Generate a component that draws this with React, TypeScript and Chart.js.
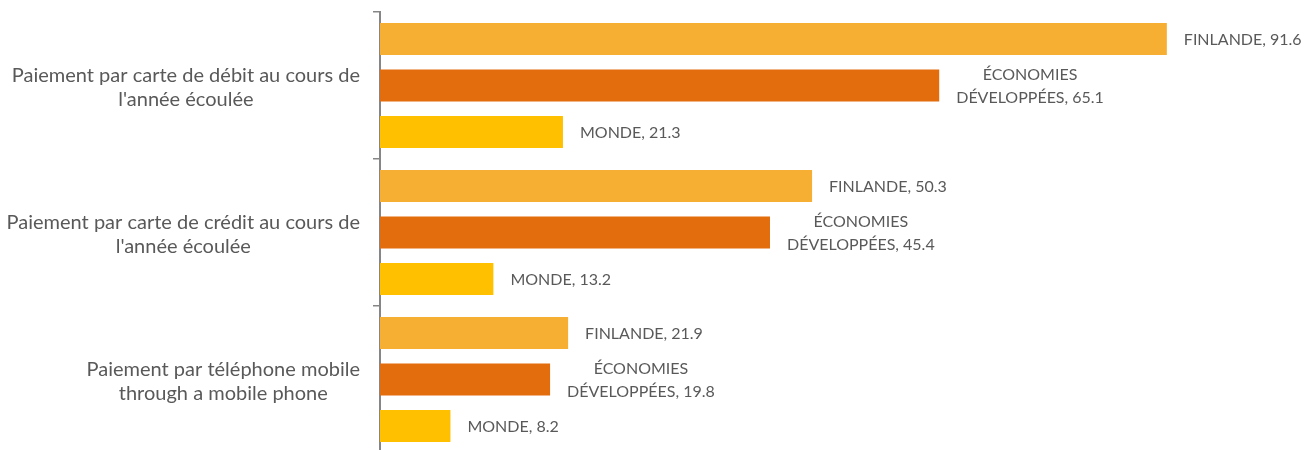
import React, { useEffect, useRef } from "react";
import { Chart, registerables } from "chart.js";

Chart.register(...registerables);

const categories: string[][] = [
  ["Paiement par carte de débit au cours de", "l'année écoulée"],
  ["Paiement par carte de crédit au cours de", "l'année écoulée"],
  ["Paiement par téléphone mobile", "through a mobile phone"],
];
const seriesNames = ["FINLANDE", "ÉCONOMIES DÉVELOPPÉES", "MONDE"];
const finlande = [91.6, 50.3, 21.9];
const economies = [65.1, 45.4, 19.8];
const monde = [21.3, 13.2, 8.2];
const seriesColors = ["#F7AF33", "#E36C0C", "#FFC000"];
const xMax = 100;

const TEXT = "#595959";
const FONT = "Lato, 'Open Sans', sans-serif";

const labelPlugin = {
  id: "customLabels",
  afterDraw(chart: any) {
    const ctx = chart.ctx;
    const yScale = chart.scales.y;
    const area = chart.chartArea;
    ctx.save();
    ctx.fillStyle = TEXT;
    ctx.textAlign = "center";
    ctx.textBaseline = "middle";
    // category labels
    ctx.font = `20px ${FONT}`;
    categories.forEach((lines, i) => {
      const y = yScale.getPixelForValue(i);
      const w = Math.max(...lines.map((l) => ctx.measureText(l).width));
      const cx = area.left - 20 - w / 2;
      const lh = 24;
      const y0 = y - ((lines.length - 1) * lh) / 2 + 2;
      lines.forEach((l, k) => ctx.fillText(l, cx, y0 + k * lh));
    });
    // data labels
    ctx.font = `16px ${FONT}`;
    chart.data.datasets.forEach((ds: any, di: number) => {
      const meta = chart.getDatasetMeta(di);
      meta.data.forEach((el: any, i: number) => {
        const v = ds.data[i];
        const parts = seriesNames[di].split(" ");
        const lines = parts.slice(0, -1).concat([`${parts[parts.length - 1]}, ${v.toFixed(1)}`]);
        const w = Math.max(...lines.map((l: string) => ctx.measureText(l).width));
        const cx = el.x + 17 + w / 2;
        const lh = 23;
        const y0 = el.y - ((lines.length - 1) * lh) / 2 + 1;
        lines.forEach((l: string, k: number) => ctx.fillText(l, cx, y0 + k * lh));
      });
    });
    ctx.restore();
  },
};

export default function App() {
  const ref = useRef<HTMLCanvasElement>(null);
  useEffect(() => {
    if (!ref.current) return;
    const chart = new Chart(ref.current, {
      type: "bar",
      data: {
        labels: categories,
        datasets: [
          { label: seriesNames[0], data: finlande, backgroundColor: seriesColors[0] },
          { label: seriesNames[1], data: economies, backgroundColor: seriesColors[1] },
          { label: seriesNames[2], data: monde, backgroundColor: seriesColors[2] },
        ],
      },
      options: {
        indexAxis: "y",
        animation: false,
        responsive: false,
        maintainAspectRatio: false,
        layout: { padding: { left: 0, right: 72, top: 12, bottom: 3 } },
        datasets: {
          bar: { categoryPercentage: 0.949, barPercentage: 0.69 },
        },
        plugins: {
          legend: { display: false },
          tooltip: { enabled: false },
        },
        scales: {
          x: {
            display: false,
            min: 0,
            max: xMax,
          },
          y: {
            offset: true,
            grid: {
              offset: true,
              drawOnChartArea: false,
              drawTicks: true,
              tickLength: 7,
              color: "#868686",
              lineWidth: 1.5,
            },
            border: { display: true, color: "#868686", width: 2 },
            ticks: { display: false },
            afterFit(scale: any) {
              scale.width = 380;
            },
          },
        },
      },
      plugins: [labelPlugin],
    } as any);
    return () => chart.destroy();
  }, []);
  return (
    <div style={{ position: "fixed", left: 0, top: 0, width: 1311, height: 456, background: "#fff" }}>
      <canvas ref={ref} width={1311} height={456} style={{ width: 1311, height: 456, display: "block" }} />
    </div>
  );
}
